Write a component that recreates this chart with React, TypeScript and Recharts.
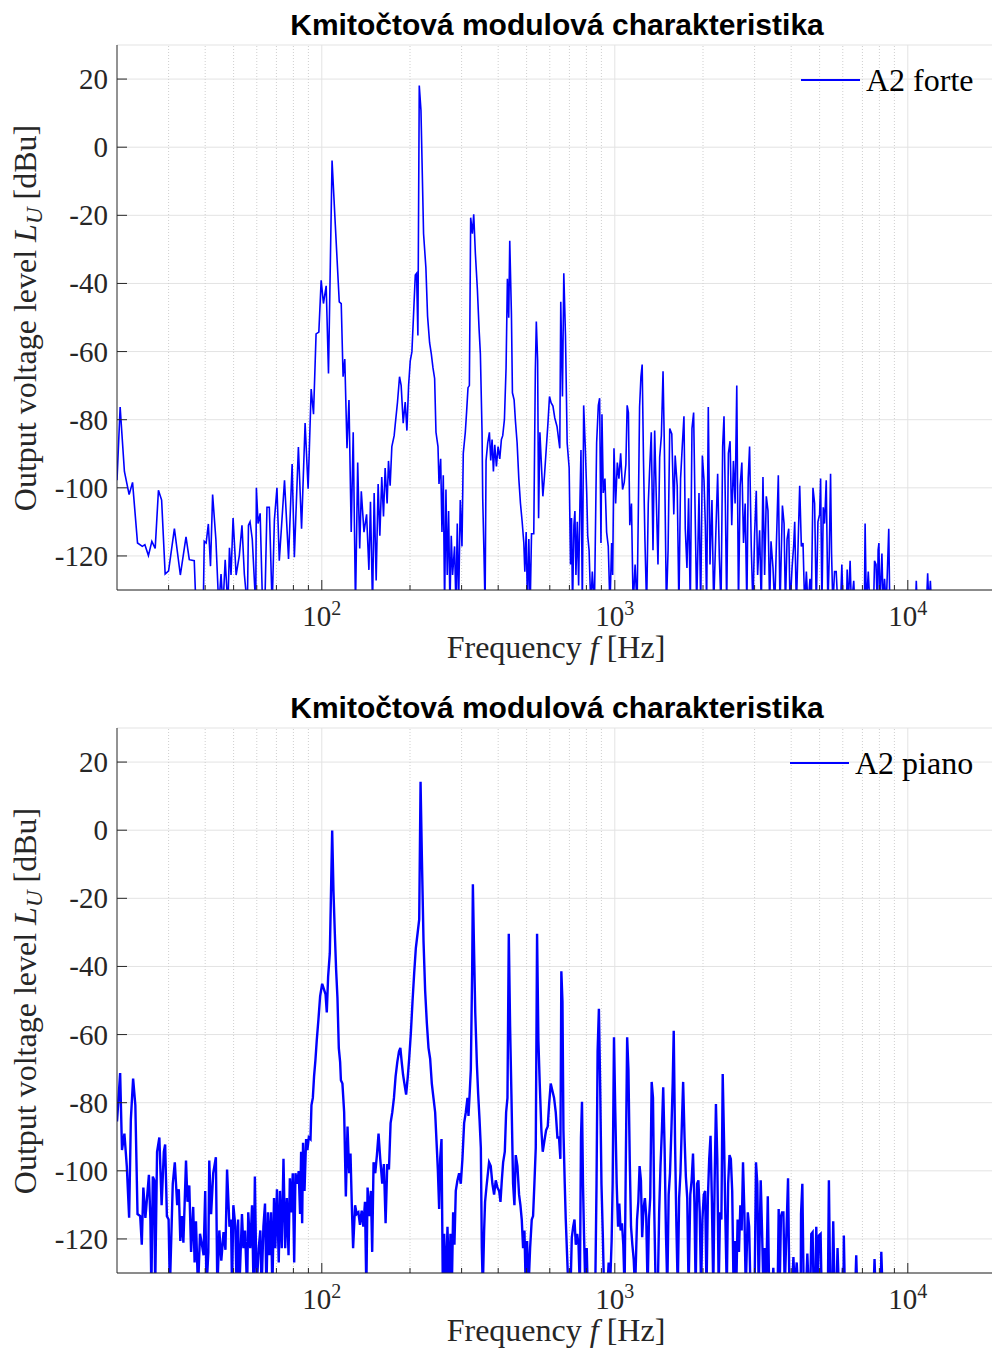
import React from "react";
import { LineChart, Line, XAxis, YAxis, CartesianGrid, ReferenceLine } from "recharts";

// [frequency Hz, level dBu]
const fortePoints: [number, number][] = [
  [20.0, -97.8], [20.5, -76.3], [21.2, -95.2], [22.0, -102], [22.6, -98.4], [23.5, -116.2], [24.4, -117.2],
  [24.9, -116.7], [25.6, -119.9], [26.3, -115.7], [27.0, -117.8], [27.7, -100.7], [28.4, -103.6], [29.2, -125.3],
  [30.0, -124.4], [31.4, -112], [32.9, -125.6], [34.4, -114.4], [35.3, -121.1], [36.7, -121.4], [37.2, -135],
  [39.4, -135], [39.7, -115.7], [40.3, -116.2], [41.0, -110.6], [41.7, -123], [42.4, -102], [43.5, -115.1],
  [44.5, -135], [45.3, -125.3], [46.0, -135], [46.8, -121.1], [47.8, -135], [48.4, -117.6], [49.0, -125.6],
  [49.8, -108.9], [51.0, -125.6], [52.3, -119.9], [53.4, -111], [54.4, -125.3], [55.7, -135], [56.2, -111],
  [56.9, -110], [57.9, -115.1], [59.5, -135], [59.8, -100], [60.6, -110.5], [61.6, -107.5], [62.8, -135],
  [63.9, -135], [65.0, -105.7], [66.2, -105.7], [67.7, -135], [68.9, -109.4], [70.3, -100], [71.6, -121.4],
  [74.6, -97.8], [77.0, -120.9], [79.2, -93], [80.6, -120.4], [83.2, -88], [85.3, -112], [87.7, -81],
  [89.8, -100.3], [92.0, -71], [93.7, -78.4], [95.6, -54.8], [97.7, -54.3], [99.5, -39.1], [101.3, -45.9],
  [103.5, -40.7], [105.4, -66.4], [108.4, -3.9], [111.2, -22.8], [114.7, -45.4], [116.5, -45.9], [118.2, -67.4],
  [119.8, -62.2], [121.9, -88.4], [123.8, -74.2], [126.0, -113], [128.0, -83.7], [130.3, -135], [132.6, -92.6],
  [134.7, -117.8], [136.4, -101], [139.3, -113], [142.2, -107.8], [144.8, -124.1], [146.6, -104.1], [149.0, -135],
  [150.9, -101.5], [153.3, -127.2], [155.7, -98.9], [157.8, -114.1], [160.2, -96.8], [162.4, -108.4], [164.5, -94.2],
  [167.1, -104.6], [168.9, -92.1], [171.1, -99.4], [173.4, -87.9], [176.6, -84.7], [178.0, -81.6], [181.3, -74.8],
  [184.2, -67.4], [186.6, -70], [189.6, -81], [192.6, -74.8], [195.2, -83.2], [197.8, -70], [200.4, -62.7],
  [203.0, -60.1], [205.7, -49], [208.5, -37.5], [210.6, -37], [212.8, -55.3], [215.1, 18.1], [218.0, 10.8],
  [222.5, -25.4], [226.6, -35.4], [229.6, -49.6], [233.3, -57.4], [236.4, -60.6], [239.6, -64.8], [242.7, -67.9],
  [245.3, -83.7], [249.2, -87.9], [251.2, -98.9], [254.5, -91.5], [257.1, -113], [259.8, -96.3], [262.5, -135],
  [265.3, -100.5], [268.0, -125.6], [270.9, -106.8], [273.7, -135], [276.6, -114.1], [279.5, -125.6], [283.9, -117.2],
  [287, -135], [290, -110.5], [293, -135], [296.9, -103.6], [300.9, -117.2], [304.0, -89.9], [308.9, -83.7],
  [312.2, -77.4], [315.5, -70.6], [318.9, -70], [322.2, -20.7], [326.6, -25.4], [330.0, -19.7], [334.3, -31.2],
  [339.6, -41.7], [344.1, -53.2], [347.7, -60.6], [352.3, -83.7], [354.2, -103.1], [357.9, -120.4], [360.8, -135],
  [363.6, -92], [368.4, -86.8], [373.3, -83.7], [377.2, -92], [381.2, -85.8], [385.2, -95.2], [389.3, -87.4],
  [394.4, -93.7], [399.6, -87.9], [404.9, -91.5], [410.2, -85.8], [414.5, -84.7], [420, -80], [425.5, -64.8],
  [430, -38.6], [434.5, -50.1], [438, -27.5], [443.8, -49], [447.3, -72.1], [453.3, -74.2], [458.1, -80.5],
  [464.1, -86.8], [470.3, -97.3], [476.5, -104.6], [482.8, -109.9], [489.2, -116.2], [493.1, -124.6], [498.3, -113],
  [503.6, -135], [508.9, -115], [514.3, -135], [519.7, -113.5], [529, -113.5], [535.6, -65.3], [539.7, -51.2],
  [545.3, -62.7], [549.4, -108.9], [555.1, -83.7], [560.9, -92], [568.2, -102.5], [575.6, -96.3], [583.1, -88.9],
  [590.8, -81.6], [598.6, -73.2], [606, -75], [615, -76], [624, -79.5], [635, -82], [649, -88.4], [654, -45.4],
  [662.8, -73.2], [669.8, -37], [678.7, -55.3], [687.7, -86.8], [698.6, -94.2], [706, -122.5], [711.7, -108.9],
  [717.4, -135], [725.1, -111], [730.9, -106.8], [736.8, -125.6], [744.6, -110], [752.6, -128.7], [760.6, -103.6],
  [766.6, -88.9], [774.8, -135], [783, -75.8], [793.6, -88.9], [802, -101.5], [808.3, -114.1], [817, -118.3],
  [828, -135], [838, -124.6], [852, -135], [867, -86.8], [878.6, -75.8], [887.6, -73.7], [897, -116.2],
  [904, -78.4], [913.5, -101.5], [925.5, -97.3], [937.7, -113], [950, -117.2], [962.7, -135], [975.4, -116.2],
  [983.3, -125.6], [993.6, -88.4], [1006.8, -104.6], [1020, -92.6], [1033, -97.3], [1047, -89.9], [1063, -100.5],
  [1077, -98.4], [1091, -93.1], [1102, -75.8], [1113, -77.9], [1125, -111], [1140, -104.6], [1155, -135],
  [1173, -122.5], [1191, -135], [1203, -107.3], [1215, -76.3], [1228, -67.4], [1240, -63.8], [1253, -92.1],
  [1267, -115.1], [1284, -135], [1301, -104.6], [1314, -95.2], [1332, -83.7], [1350, -118.3], [1368, -83.2],
  [1386, -103.6], [1404, -122.5], [1423, -91], [1442, -84.7], [1461, -65.8], [1477, -88.9], [1500, -135],
  [1520, -118.3], [1540, -82.6], [1565, -84.2], [1590, -107.8], [1607, -90.5], [1633, -99.4], [1655, -135],
  [1677, -97.3], [1699, -87.9], [1722, -79], [1740, -112], [1763, -123.5], [1786, -103.1], [1810, -135],
  [1834, -82.6], [1858, -77.9], [1878, -104.6], [1903, -135], [1938, -101.5], [1964, -135], [1990, -90.5],
  [2016, -97.8], [2037, -111], [2058, -135], [2085, -76.3], [2113, -122.5], [2146, -103.6], [2175, -135],
  [2209, -115.1], [2244, -95.9], [2274, -120.4], [2304, -135], [2334, -87.9], [2359, -79], [2384, -104.6],
  [2409, -135], [2442, -89.9], [2474, -86.3], [2507, -111], [2540, -92.1], [2574, -104.6], [2608, -70],
  [2643, -135], [2678, -99.4], [2714, -92.6], [2750, -116.2], [2786, -104.6], [2823, -135], [2853, -97.3],
  [2884, -87.9], [2922, -117.2], [2961, -135], [3000, -113.5], [3040, -100.9], [3072, -125.6], [3121, -112.5],
  [3162, -135], [3204, -96.8], [3246, -125.6], [3289, -102.5], [3333, -106.7], [3377, -135], [3413, -115.7],
  [3467, -123.5], [3513, -135], [3559, -117.2], [3615, -96.3], [3663, -135], [3733, -105.2], [3782, -110.5],
  [3822, -135], [3872, -115.1], [3923, -112], [3964, -135], [4027, -123.5], [4080, -116.7], [4112, -110],
  [4166, -135], [4221, -117.2], [4276, -99.4], [4332, -117.2], [4389, -116.2], [4447, -135], [4506, -124.6],
  [4565, -135], [4636, -126.7], [4684, -135], [4746, -100], [4808, -104.6], [4871, -135], [4935, -110],
  [5000, -107.8], [5040, -97.3], [5093, -135], [5146, -105.7], [5200, -110.5], [5268, -97.8], [5337, -135],
  [5393, -120.4], [5450, -95.9], [5493, -119.3], [5550, -135], [5623, -124.6], [5697, -124.6], [5772, -135],
  [5893, -135], [5955, -122.5], [6017, -135], [6177, -135], [6210, -124], [6257, -135], [6355, -121.4],
  [6420, -135], [6538, -127.3], [6600, -135], [7110, -135], [7150, -110.5], [7220, -135], [7330, -124.6],
  [7430, -135], [7640, -135], [7700, -121.4], [7790, -122.5], [7870, -135], [7920, -118.3], [7970, -116.2],
  [8030, -135], [8160, -119.3], [8240, -135], [8330, -126.7], [8440, -135], [8610, -112], [8680, -135],
  [10620, -135], [10690, -127.3], [10770, -135], [11570, -135], [11690, -125.1], [11810, -135], [11940, -127.3],
  [12060, -135], [20000, -135],
];

const pianoPoints: [number, number][] = [
  [20.0, -85.5], [20.5, -71.3], [20.8, -93.9], [21.2, -89.1], [21.6, -98.6], [22.0, -113.8], [22.3, -84.9],
  [22.7, -72.9], [23.1, -80.7], [23.5, -112.7], [24.0, -113.3], [24.3, -121.7], [24.6, -104.9], [25.0, -113.8],
  [25.7, -101.2], [26.0, -114.3], [26.2, -135], [26.5, -101.7], [26.8, -102.8], [27.0, -135], [27.4, -94.4],
  [27.9, -90.2], [28.4, -110.1], [28.9, -94.4], [29.2, -92.3], [29.6, -113.3], [30.0, -114.3], [30.3, -135],
  [31.0, -103.8], [31.5, -97.5], [32.1, -110.1], [32.5, -105.4], [32.9, -120.6], [33.3, -113.3], [33.7, -121.1],
  [34.4, -97], [34.8, -109.1], [35.3, -104.3], [35.8, -123.8], [36.4, -110.6], [36.8, -126.9], [37.2, -114.8],
  [37.8, -135], [38.4, -118.5], [39.0, -121.7], [39.5, -124.8], [40.0, -105.9], [40.4, -135], [41.0, -123.8],
  [41.3, -97], [41.9, -112.7], [42.6, -100.7], [43.5, -96], [44.0, -135], [44.7, -117.5], [45.4, -126.4],
  [46.2, -118], [46.9, -123.2], [47.5, -99.6], [48.4, -116.4], [49.0, -114.3], [49.4, -135], [49.9, -110.1],
  [50.7, -116.4], [51.2, -135], [51.8, -114.3], [52.3, -135], [53.4, -112.7], [54.0, -122.7], [54.7, -117.5],
  [55.6, -135], [56.1, -112.2], [57.0, -122.7], [57.8, -110.1], [58.5, -135], [59.1, -101.7], [59.9, -135],
  [60.9, -122.7], [61.7, -117.5], [62.3, -135], [63.2, -116.4], [64.0, -109.6], [64.7, -135], [65.5, -112.2],
  [66.3, -124.8], [67.1, -112.2], [67.8, -135], [68.7, -108], [69.4, -122.7], [70.3, -105.4], [71.3, -126.9],
  [72.0, -105.9], [73.0, -122.7], [74.0, -96.5], [75.0, -122.7], [76.0, -108], [77.0, -124.8], [77.8, -102.2],
  [78.6, -112.2], [79.6, -100.7], [80.5, -126.9], [81.3, -100.7], [82.4, -103.8], [83.4, -100.1], [84.3, -112.7],
  [85.0, -94.4], [85.7, -115.4], [86.3, -91.8], [87.3, -105.9], [88.4, -90.7], [89.3, -93.9], [90.3, -90.2],
  [91.5, -90.7], [92.2, -80.7], [93.2, -78.6], [94.1, -72.3], [95.1, -67.6], [96.1, -61.8], [97.4, -55.5],
  [98.7, -48.7], [100.3, -45.1], [101.6, -46.6], [103, -48.2], [104, -53.5], [105.1, -43], [106.5, -36.1],
  [107.3, -22], [108.5, -0.1], [109.6, -17.8], [110.8, -30.4], [111.9, -40.9], [113.1, -49.3], [114.3, -64],
  [115.5, -68.1], [116.2, -73.4], [117.6, -74.4], [119.2, -82.8], [120.8, -107.5], [122.4, -87], [124, -100.7],
  [125.3, -94.9], [126.6, -110.1], [127.9, -122.7], [129.9, -110.1], [131.6, -112.7], [133.3, -112.2], [135, -115.9],
  [136.8, -111.7], [138.6, -116.4], [140.4, -109.1], [141.9, -135], [143.3, -104.9], [145.2, -113.3], [147.1, -105.9],
  [148.6, -123.8], [150.2, -97.5], [152.2, -100.7], [154.2, -95.4], [156.2, -89.1], [158.3, -96.5], [160.8, -103.8],
  [162.9, -98], [165.1, -115.4], [167.3, -98], [169.5, -99.6], [171.7, -86], [174, -82.8], [176.3, -78.6],
  [178.6, -72.3], [181, -68.1], [183.4, -65], [185.4, -63.9], [187.4, -68.1], [189.4, -71.8], [191.4, -74.4],
  [194, -77.6], [196.6, -72.3], [198.7, -67.1], [201.3, -59.7], [204, -50.3], [206.7, -41.9], [209.4, -34.6],
  [212.2, -30.4], [215, -26.2], [217.3, 14.2], [219.5, -7.3], [222.4, -32.5], [225.3, -47.2], [228.3, -56.6],
  [231.3, -63.9], [234.3, -67.1], [237.4, -74.4], [240.5, -78.6], [243.7, -82.8], [246.3, -91.2], [248.9, -99.6],
  [251.5, -111.2], [253.5, -96.5], [256.2, -90.7], [258.9, -135], [261.6, -118.5], [265, -135], [268.5, -116.4],
  [272, -135], [274.9, -118.5], [277.8, -135], [280.7, -112.2], [283.6, -121.7], [286.6, -105.9], [290.4, -102.8],
  [294.2, -100.7], [298.1, -103.8], [302, -96.5], [306, -86], [310.1, -82.8], [314.2, -78.6], [316.7, -83.9],
  [320, -76.5], [322.6, -70.2], [326, -40.9], [327.8, -15.9], [330.4, -32.5], [334, -53.5], [338.3, -68.7],
  [341.8, -77.6], [345.4, -84.9], [349, -93.3], [351.7, -122.7], [354.4, -135], [358.1, -117.5], [360.8, -109.1],
  [364.6, -104.9], [368.4, -101.2], [372.3, -97.5], [377.2, -98.6], [382.2, -103.8], [387.3, -107], [392.4, -102.8],
  [397.6, -104.9], [402.9, -105.9], [407.2, -109.1], [411.5, -102.8], [415.8, -97.5], [421.3, -94.4], [425.7, -82.8],
  [430.2, -78.6], [434.7, -30.4], [439.2, -57.6], [443.8, -77.6], [449.6, -103.8], [454.4, -110.1], [459.1, -95.4],
  [465.2, -98.6], [471.3, -107], [476.3, -110.1], [481.3, -114.3], [486.4, -122.7], [491.6, -117.5], [496.8, -135],
  [502, -120.6], [507.3, -135], [514, -122.7], [520.7, -114.3], [526.1, -113.3], [531.6, -103.8], [537.3, -93.3],
  [542.9, -30.4], [548.6, -61.8], [554.4, -74.4], [561.7, -88.1], [567.6, -94.4], [575.1, -91.2], [582.7, -88.1],
  [590.3, -87], [596.5, -80.7], [604.4, -74.4], [612.4, -76.5], [620.5, -78.6], [628.7, -82.8], [637, -90.2],
  [645, -90.2], [652, -96.5], [657, -41.4], [662.8, -50.3], [667.9, -88.1], [674.8, -103.8], [680.2, -114.3],
  [687.4, -124.8], [694.6, -135], [706, -135], [713.3, -119.6], [721, -116.4], [728.5, -114.3], [736, -121.7],
  [744, -118.5], [752, -121.7], [760, -135], [766.6, -90.2], [772.7, -79.7], [778.8, -103.8], [785, -118.5],
  [793.6, -135], [802, -122.7], [808.3, -135], [857.6, -135], [866.3, -103.8], [873.6, -65], [882.5, -52.4],
  [891.6, -75.5], [900.5, -103.8], [909.9, -118.5], [919, -135], [942.7, -135], [953, -126.9], [962.7, -135],
  [975.4, -120.6], [983.3, -103.8], [993.6, -60.8], [1004, -82.8], [1015, -103.8], [1026, -116.4], [1036, -109.6],
  [1047, -117.5], [1058, -115.4], [1069, -121.7], [1080, -135], [1091, -95.4], [1102, -60.8], [1113, -70.2],
  [1125, -97.5], [1136, -116.4], [1148, -121.7], [1160, -125.9], [1173, -135], [1191, -114.3], [1203, -109.1],
  [1215, -98.6], [1228, -102.8], [1240, -119.5], [1253, -111.2], [1267, -108], [1280, -113.3], [1294, -135],
  [1308, -114.3], [1321, -108], [1336, -73.9], [1350, -78.6], [1364, -112.2], [1379, -135], [1402, -135],
  [1417, -112.2], [1432, -98.6], [1448, -88.1], [1463, -75.5], [1479, -93.3], [1495, -118.5], [1511, -135],
  [1527, -107], [1543, -100.7], [1560, -88.1], [1576, -74.4], [1589, -58.9], [1606, -92.3], [1623, -116.4],
  [1640, -135], [1658, -108], [1675, -100.7], [1693, -87], [1711, -73.9], [1730, -90.2], [1748, -101.7],
  [1767, -108], [1786, -135], [1810, -107], [1829, -102.8], [1849, -94.9], [1869, -109.1], [1888, -135],
  [1909, -103.8], [1929, -102.8], [1949, -112.2], [1970, -135], [1991, -114.3], [2012, -107], [2034, -105.9],
  [2056, -135], [2078, -108], [2100, -96.5], [2122, -89.7], [2145, -109.1], [2168, -135], [2191, -103.8],
  [2214, -80.4], [2238, -96.5], [2262, -135], [2286, -112.2], [2311, -114.3], [2335, -71.6], [2360, -91.2],
  [2385, -114.3], [2411, -135], [2437, -103.8], [2463, -95.4], [2489, -96.5], [2516, -105.9], [2543, -135],
  [2570, -120.6], [2597, -135], [2625, -114.3], [2653, -123.8], [2682, -110.1], [2710, -117.5], [2739, -97.5],
  [2769, -112.2], [2798, -135], [2844, -112.2], [2874, -116.4], [2905, -135], [3000, -135], [3033, -97.5],
  [3065, -103.8], [3098, -135], [3148, -102.8], [3181, -117.5], [3215, -135], [3250, -122.7], [3285, -135],
  [3328, -107.5], [3364, -135], [3445, -135], [3475, -128.5], [3503, -135], [3596, -135], [3625, -111.2],
  [3653, -135], [3691, -113.3], [3723, -112.2], [3762, -112.2], [3802, -135], [3852, -118.5], [3902, -102.2],
  [3944, -135], [4027, -135], [4070, -125.3], [4112, -135], [4177, -126.9], [4221, -135], [4310, -135],
  [4321, -112.7], [4366, -103.8], [4412, -135], [4494, -135], [4541, -124.3], [4589, -135], [4648, -135],
  [4684, -118.5], [4733, -118], [4771, -135], [4833, -135], [4871, -116.4], [4922, -135], [4974, -119],
  [5040, -118.5], [5079, -135], [5337, -135], [5379, -102.8], [5436, -135], [5521, -135], [5565, -114.8],
  [5623, -135], [5712, -135], [5757, -122.7], [5817, -135], [5970, -135], [6002, -128.5], [6033, -135],
  [6049, -119], [6097, -135], [6615, -135], [6668, -124.8], [6720, -135], [7640, -135], [7700, -125.9],
  [7760, -135], [8090, -135], [8120, -123.8], [8200, -135], [20000, -135],
];

const xDomain: [number, number] = [20, 20000];
const yDomain: [number, number] = [-130, 30];
const yTicks = [-120, -100, -80, -60, -40, -20, 0, 20];
const majorX = [100, 1000, 10000];
const minorX = [30, 40, 50, 60, 70, 80, 90, 200, 300, 400, 500, 600, 700, 800, 900, 2000, 3000, 4000, 5000, 6000, 7000, 8000, 9000];
const xTicks = [...minorX, ...majorX].sort((a, b) => a - b);

const titleText = "Kmitočtová modulová charakteristika";
const SERIF = "'Liberation Serif', 'Times New Roman', serif";
const SANS = "'Liberation Sans', Arial, sans-serif";
const AX = "#262626";

function YTick(props: any) {
  const { x, y, payload } = props;
  return (
    <g>
      <line x1={x} x2={x + 10} y1={y} y2={y} stroke={AX} strokeWidth={1} />
      <text x={x - 9} y={y + 10} textAnchor="end" fontFamily={SERIF} fontSize={29} fill={AX}>
        {String(payload.value)}
      </text>
    </g>
  );
}

function XTick(props: any) {
  const { x, y, payload } = props;
  const v = payload.value;
  const major = majorX.includes(v);
  const exp = Math.round(Math.log10(v));
  return (
    <g>
      <line x1={x} x2={x} y1={y} y2={y - (major ? 10 : 5)} stroke={AX} strokeWidth={1} />
      {major && (
        <text x={x} y={y + 36} textAnchor="middle" fontFamily={SERIF} fontSize={29} fill={AX}>
          10<tspan fontSize={20} dy={-11}>{exp}</tspan>
        </text>
      )}
    </g>
  );
}

function Panel(props: { top: number; points: [number, number][]; legend: string; legendX: number; width: number }) {
  const data = props.points.map(([f, v]) => ({ f, v }));
  return (
    <div style={{ position: "absolute", left: 0, top: props.top, width: 996, height: 680 }}>
      <LineChart width={996} height={680} data={data} margin={{ top: 45, right: 0, bottom: 0, left: 0 }}>
        <CartesianGrid horizontal={true} vertical={false} stroke="#e3e3e3" strokeWidth={1} />
        {minorX.map((f) => (
          <ReferenceLine key={"m" + f} x={f} stroke="#cfcfcf" strokeWidth={1} strokeDasharray="1 2" />
        ))}
        {majorX.map((f) => (
          <ReferenceLine key={"M" + f} x={f} stroke="#e3e3e3" strokeWidth={1} />
        ))}
        <XAxis
          dataKey="f"
          type="number"
          scale="log"
          domain={xDomain}
          allowDataOverflow
          ticks={xTicks}
          interval={0}
          tickSize={0}
          tickMargin={0}
          tickLine={false}
          tick={<XTick />}
          axisLine={{ stroke: AX, strokeWidth: 1 }}
          height={90}
        />
        <YAxis
          type="number"
          domain={yDomain}
          allowDataOverflow
          ticks={yTicks}
          interval={0}
          tickSize={0}
          tickMargin={0}
          tickLine={false}
          tick={<YTick />}
          axisLine={{ stroke: AX, strokeWidth: 1 }}
          width={117}
        />
        <Line
          dataKey="v"
          type="linear"
          stroke="#0000ff"
          strokeWidth={props.width}
          dot={false}
          activeDot={false}
          isAnimationActive={false}
        />
      </LineChart>
      <svg
        width={992}
        height={680}
        style={{ position: "absolute", left: 0, top: 0, pointerEvents: "none" }}
      >
        <text x={557} y={35} textAnchor="middle" fontFamily={SANS} fontWeight="bold" fontSize={30} fill="#000">
          {titleText}
        </text>
        <text
          x={36}
          y={318}
          transform="rotate(-90 36 318)"
          textAnchor="middle"
          fontFamily={SERIF}
          fontSize={32}
          fill={AX}
        >
          Output voltage level <tspan fontStyle="italic">L</tspan>
          <tspan fontStyle="italic" fontSize={23} dy={6}>U</tspan>
          <tspan dy={-6}> [dBu]</tspan>
        </text>
        <text x={556} y={658} textAnchor="middle" fontFamily={SERIF} fontSize={32} fill={AX}>
          Frequency <tspan fontStyle="italic">f</tspan> [Hz]
        </text>
        <line x1={props.legendX - 65} x2={props.legendX - 6} y1={80} y2={80} stroke="#0000ff" strokeWidth={2} />
        <text x={props.legendX} y={91} fontFamily={SERIF} fontSize={32} fill="#000">
          {props.legend}
        </text>
      </svg>
    </div>
  );
}

export default function App() {
  return (
    <div
      style={{
        position: "absolute",
        left: 0,
        top: 0,
        width: 992,
        height: 1356,
        overflow: "hidden",
        background: "#ffffff",
      }}
    >
      <Panel top={0} points={fortePoints} legend="A2 forte" legendX={866} width={1.6} />
      <Panel top={683} points={pianoPoints} legend="A2 piano" legendX={855} width={2.4} />
    </div>
  );
}
